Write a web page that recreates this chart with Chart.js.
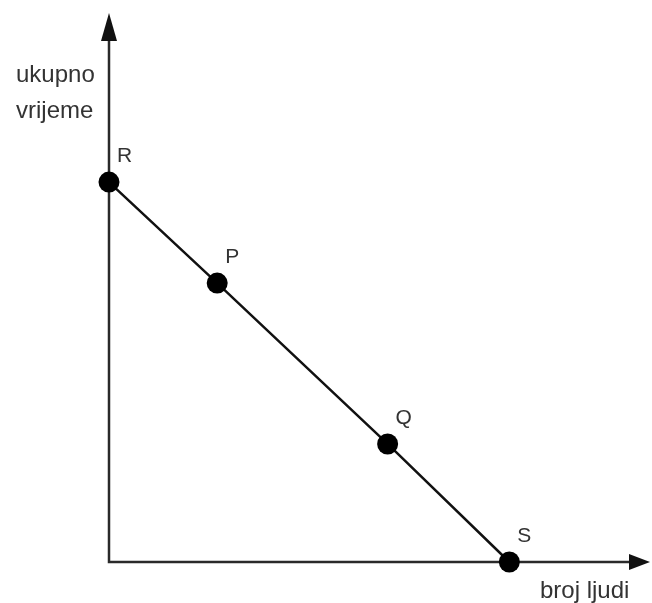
<!DOCTYPE html>
<html>
<head>
<meta charset="utf-8">
<script src="https://cdn.jsdelivr.net/npm/chart.js@4.4.0/dist/chart.umd.min.js"></script>
<style>
  body { margin: 0; background: #fff; }
  canvas { display: block; }
</style>
</head>
<body>
<canvas id="graf" width="652" height="603"></canvas>
<script>
// tocke na pravcu
var pointNames = ["R", "P", "Q", "S"];
var xValues = [0, 2, 5.15, 7.4];
var yValues = [6.92, 5.08, 2.15, 0];

var xMax = 10;
var yMax = 10;
var xTitle = "broj ljudi";
var yTitle = ["ukupno", "vrijeme"];

var points = [];
for (var i = 0; i < pointNames.length; i++) {
  points.push({ x: xValues[i], y: yValues[i] });
}

var fontName = "'Liberation Sans', Arial, sans-serif";

// osi sa strelicama i oznake
var axesPlugin = {
  id: "axes",
  beforeDatasetsDraw: function (chart) {
    var ctx = chart.ctx;
    var x = chart.scales.x, y = chart.scales.y;
    var x0 = x.getPixelForValue(0), y0 = y.getPixelForValue(0);
    var xEnd = x.getPixelForValue(xMax), yEnd = y.getPixelForValue(yMax);
    ctx.save();
    ctx.strokeStyle = "#2a2a2a";
    ctx.fillStyle = "#111";
    ctx.lineWidth = 2.5;
    ctx.beginPath();
    ctx.moveTo(x0, yEnd + 20);
    ctx.lineTo(x0, y0);
    ctx.lineTo(xEnd - 16, y0);
    ctx.stroke();
    // strelica gore
    ctx.beginPath();
    ctx.moveTo(x0, yEnd);
    ctx.lineTo(x0 - 8, yEnd + 28);
    ctx.lineTo(x0 + 8, yEnd + 28);
    ctx.closePath();
    ctx.fill();
    // strelica desno
    ctx.beginPath();
    ctx.moveTo(xEnd, y0);
    ctx.lineTo(xEnd - 21, y0 - 8);
    ctx.lineTo(xEnd - 21, y0 + 8);
    ctx.closePath();
    ctx.fill();

    ctx.fillStyle = "#333";
    ctx.font = "24px " + fontName;
    ctx.textBaseline = "alphabetic";
    ctx.textAlign = "left";
    ctx.fillText(yTitle[0], x0 - 93, 82);
    ctx.fillText(yTitle[1], x0 - 93, 118);
    ctx.fillText(xTitle, xEnd - 110, y0 + 36);
    ctx.restore();
  },
  afterDatasetsDraw: function (chart) {
    var ctx = chart.ctx;
    var meta = chart.getDatasetMeta(0);
    ctx.save();
    ctx.fillStyle = "#333";
    ctx.font = "21px " + fontName;
    ctx.textAlign = "left";
    ctx.textBaseline = "alphabetic";
    meta.data.forEach(function (pt, i) {
      ctx.fillText(pointNames[i], pt.x + 8, pt.y - 20);
    });
    ctx.restore();
  }
};

new Chart(document.getElementById("graf"), {
  type: "scatter",
  data: {
    datasets: [{
      data: points,
      showLine: true,
      borderColor: "#111",
      borderWidth: 2.5,
      backgroundColor: "#000",
      pointRadius: 10.5,
      pointBorderWidth: 0,
      clip: false
    }]
  },
  options: {
    responsive: false,
    animation: false,
    events: [],
    layout: { autoPadding: false, padding: { left: 109, right: 2, top: 13, bottom: 41 } },
    plugins: { legend: { display: false }, tooltip: { enabled: false } },
    scales: {
      x: { type: "linear", min: 0, max: xMax, display: false },
      y: { type: "linear", min: 0, max: yMax, display: false }
    }
  },
  plugins: [axesPlugin]
});
</script>
</body>
</html>
